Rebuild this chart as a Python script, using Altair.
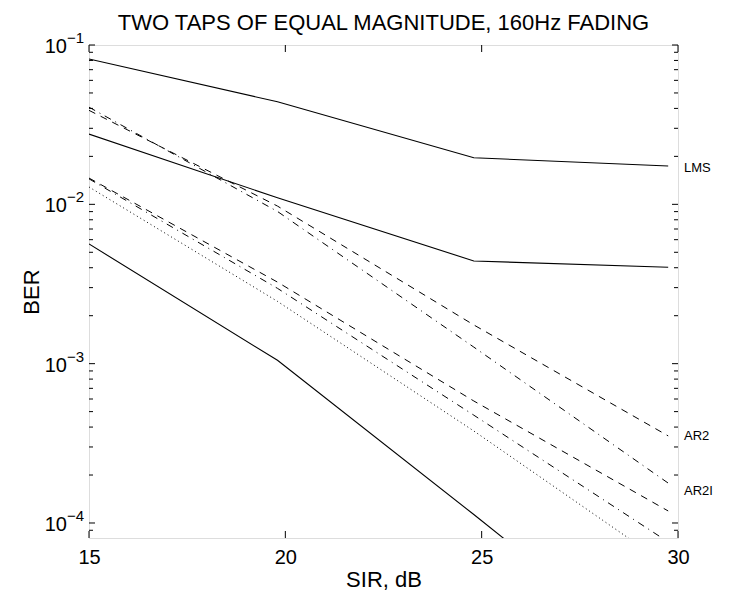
import altair as alt
import pandas as pd

FONT = "Liberation Sans"

# ---- data ----
sir = [15, 19.8, 24.8, 29.75]
lms_top = [0.0817, 0.0440, 0.0196, 0.0174]
solid_mid = [0.0276, 0.0110, 0.00441, 0.00403]
solid_low = [0.00564, 0.00105, 0.000113, 0.000012]
dash_up = [0.0389, 0.00975, 0.00175, 0.000352]
dashdot_up = [0.0407, 0.00902, 0.00127, 0.000178]
dash_low = [0.01462, 0.00325, 0.000583, 0.000119]
dashdot_low = [0.01445, 0.00297, 0.000475, 0.000076]
dotted_low = [0.01285, 0.00246, 0.000378, 0.000054]

x_ticks = [15, 20, 25, 30]
y_major = [0.0001, 0.001, 0.01, 0.1]
y_exp = ["\u22124", "\u22123", "\u22122", "\u22121"]
y_minor = [0.00009,
           0.0002, 0.0003, 0.0004, 0.0005, 0.0006, 0.0007, 0.0008, 0.0009,
           0.002, 0.003, 0.004, 0.005, 0.006, 0.007, 0.008, 0.009,
           0.02, 0.03, 0.04, 0.05, 0.06, 0.07, 0.08, 0.09]

right_labels = ["LMS", "AR2", "AR2I"]
right_label_y = [0.0170, 0.000352, 0.000158]

W, H = 589, 493

xscale = alt.Scale(domain=[15, 30], nice=False, zero=False)
yscale = alt.Scale(type="log", domain=[0.0000805, 0.1], nice=False)

x_axis = alt.Axis(values=x_ticks, ticks=False, domain=False, grid=False,
                  labelFont=FONT, labelFontSize=20, labelColor="black",
                  labelPadding=9, labelFlush=False,
                  title="SIR, dB", titleFont=FONT, titleFontSize=22,
                  titleFontWeight="normal", titleColor="black", titlePadding=2)
y_axis = alt.Axis(labels=False, ticks=False, domain=False, grid=False,
                  title="BER", titleFont=FONT, titleFontSize=22,
                  titleFontWeight="normal", titleColor="black", titlePadding=46)

X = alt.X("sir:Q", scale=xscale, axis=x_axis)
Y = alt.Y("ber:Q", scale=yscale, axis=y_axis)


def line(vals, width=1.1, dash=None):
    df = pd.DataFrame({"sir": sir, "ber": vals})
    kw = dict(color="black", strokeWidth=width, clip=True)
    if dash is not None:
        kw["strokeDash"] = dash
    return alt.Chart(df).mark_line(**kw).encode(x=X, y=Y)


layers = [
    line(lms_top),
    line(solid_mid),
    line(solid_low),
    line(dash_up, 1, [7, 6]),
    line(dashdot_up, 1, [7, 5, 1, 5]),
    line(dash_low, 1, [7, 6]),
    line(dashdot_low, 1, [7, 5, 1, 5]),
    line(dotted_low, 1, [1, 3]),
]

# inward ticks (MATLAB style box)
xt = pd.DataFrame({"sir": x_ticks})
for y0, y1 in [(H, H - 7), (0, 7)]:
    layers.append(alt.Chart(xt).mark_rule(color="black", strokeWidth=1).encode(
        x=X, y=alt.value(y0), y2=alt.value(y1)))

ytm = pd.DataFrame({"ber": y_major})
ytn = pd.DataFrame({"ber": y_minor})
for df, ln in [(ytm, 6), (ytn, 4)]:
    for x0, x1 in [(0, ln), (W, W - ln)]:
        layers.append(alt.Chart(df).mark_rule(color="black", strokeWidth=1).encode(
            y=Y, x=alt.value(x0), x2=alt.value(x1)))

# y tick labels 10^n
ylab = pd.DataFrame({"ber": y_major, "base": ["10"] * 4, "exp": y_exp})
layers.append(alt.Chart(ylab).mark_text(align="right", baseline="middle", font=FONT,
                                        fontSize=20, color="black", dy=2).encode(
    y=Y, x=alt.value(-22), text="base:N"))
layers.append(alt.Chart(ylab).mark_text(align="left", baseline="alphabetic", font=FONT,
                                        fontSize=15, color="black", dy=-2).encode(
    y=Y, x=alt.value(-22), text="exp:N"))

# curve labels on the right
rl = pd.DataFrame({"ber": right_label_y, "name": right_labels})
layers.append(alt.Chart(rl).mark_text(align="left", baseline="middle", font=FONT,
                                      fontSize=13, color="black").encode(
    y=Y, x=alt.value(W + 6), text="name:N"))

chart = alt.layer(*layers).properties(
    width=W, height=H,
    title=alt.Title("TWO TAPS OF EQUAL MAGNITUDE, 160Hz FADING", font=FONT,
                    fontSize=22, fontWeight="normal", color="black", offset=-4),
    autosize=alt.AutoSizeParams(type="none"),
    padding={"left": 89, "top": 45, "right": 52, "bottom": 57},
).configure_view(stroke="black", strokeWidth=1.3, strokeOpacity=1).configure(background="white")

chart.save("out.html", embed_options={"renderer": "svg", "actions": False})
